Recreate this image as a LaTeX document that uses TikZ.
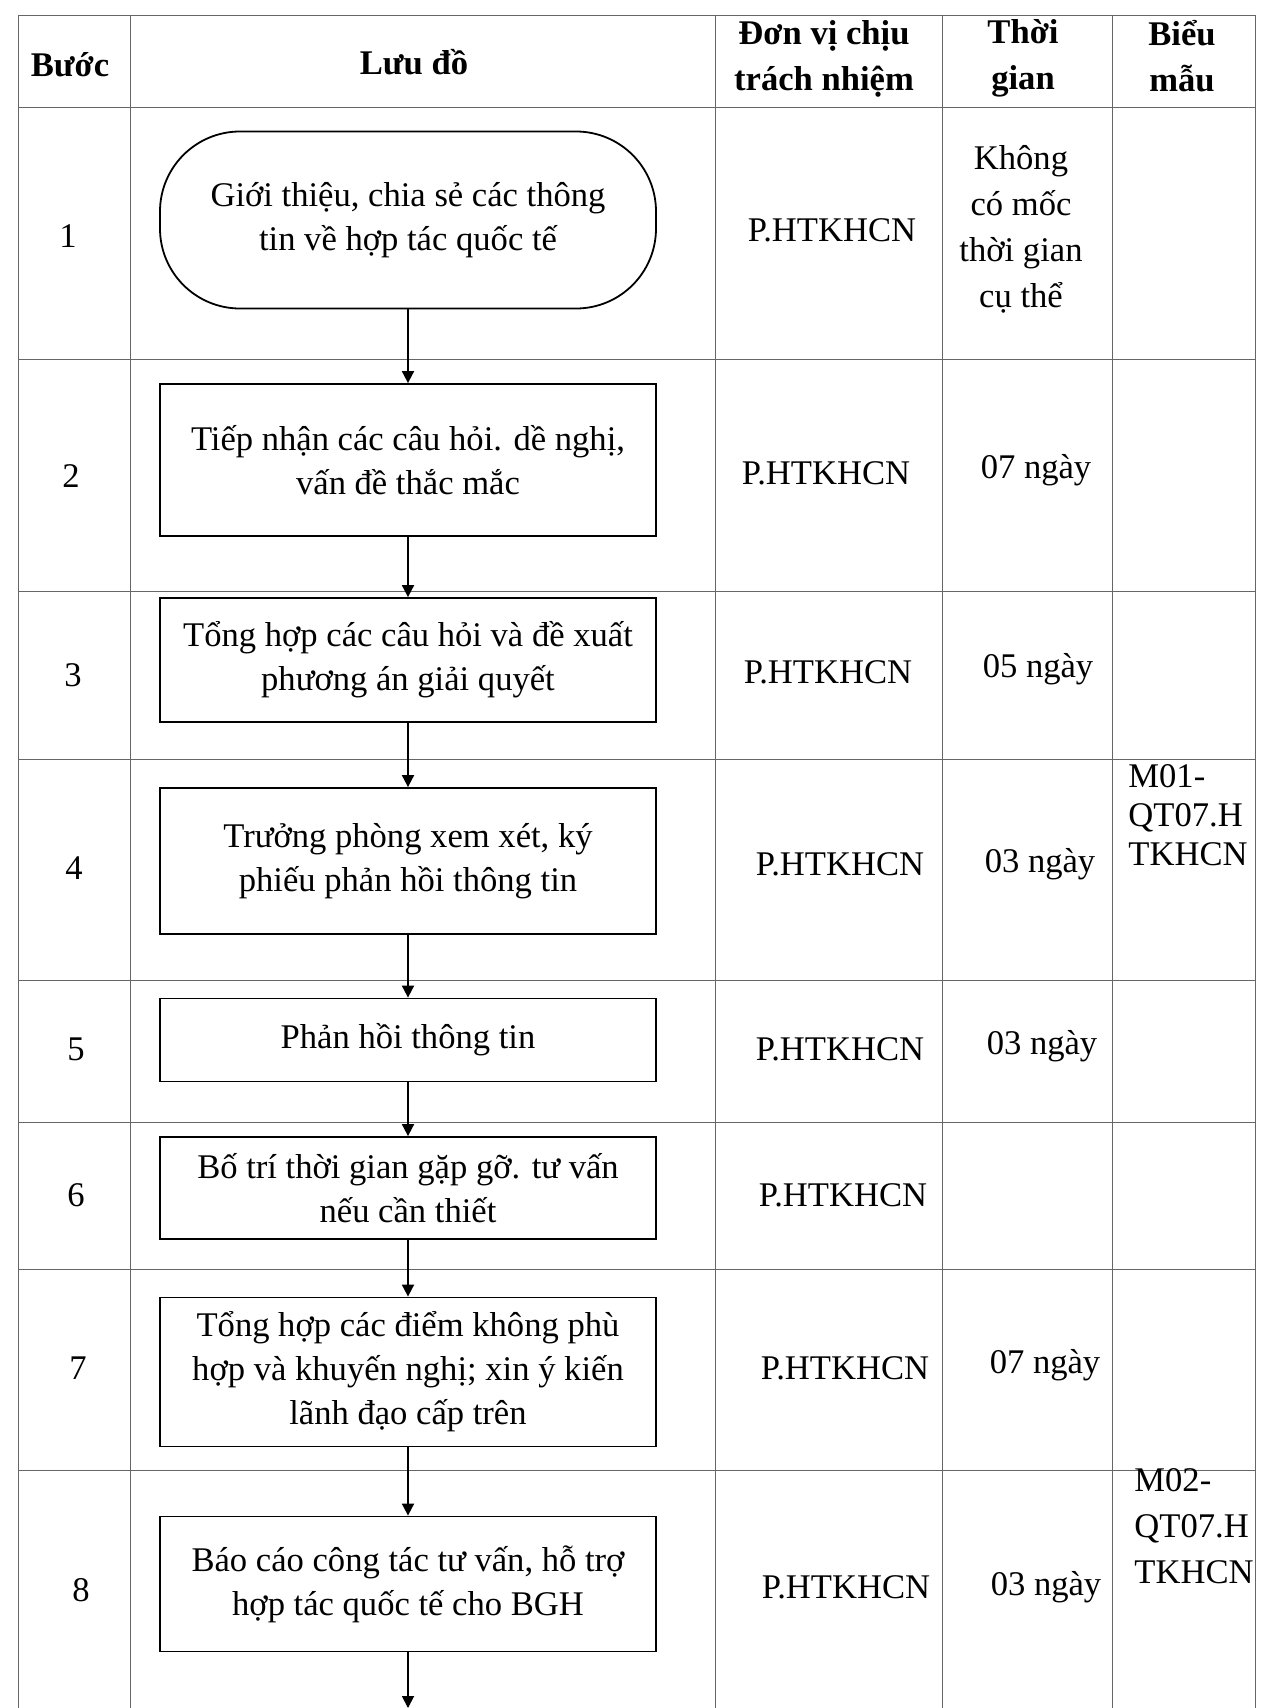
\documentclass[tikz,border=0pt]{standalone}
\usepackage{fontspec}
\setmainfont{Liberation Serif}
\usetikzlibrary{arrows.meta,positioning}
\tikzset{
  gridline/.style={draw=black!60, line width=0.5pt},
  flowbox/.style={draw, line width=0.9pt, align=center,
    minimum width=248pt, inner sep=0pt},
  termbox/.style={flowbox, rounded corners=40pt},
  cell/.style={align=center, inner sep=0pt},
  headcell/.style={cell, font=\fontsize{17.3}{23}\selectfont\bfseries},
  formcell/.style={align=left, inner sep=0pt, anchor=north west},
  arr/.style={-{Triangle[length=6pt,width=6pt]}, line width=0.9pt}
}

\begin{document}
\begin{tikzpicture}[x=0.5pt, y=-0.5pt, font=\fontsize{17.3}{22}\selectfont]
    \useasboundingbox (0,0) rectangle (1260,1708);
    % table
    \draw[gridline] (18,15) -- (1255,15);
    \draw[gridline] (18,107) -- (1255,107);
    \draw[gridline] (18,359) -- (1255,359);
    \draw[gridline] (18,591) -- (1255,591);
    \draw[gridline] (18,759) -- (1255,759);
    \draw[gridline] (18,980) -- (1255,980);
    \draw[gridline] (18,1122) -- (1255,1122);
    \draw[gridline] (18,1269) -- (1255,1269);
    \draw[gridline] (18,1470) -- (1255,1470);
    \draw[gridline] (18,15) -- (18,1708);
    \draw[gridline] (130,15) -- (130,1708);
    \draw[gridline] (715,15) -- (715,1708);
    \draw[gridline] (942,15) -- (942,1708);
    \draw[gridline] (1112,15) -- (1112,1708);
    \draw[gridline] (1255,15) -- (1255,1708);

    % header
    \node[headcell] (hstep) at (70,65) {Bước};
    \node[headcell] (hflow) at (414,62) {Lưu đồ};
    \node[headcell] (hunit) at (824,59) {Đơn vị chịu\\trách nhiệm};
    \node[headcell] (htime) at (1023,58) {Thời\\gian};
    \node[headcell] (hform) at (1182,56) {Biểu\\mẫu};

    % flow chart
    \node[termbox, minimum height=88.5pt] (s1) at (408,220)
      {Giới thiệu, chia sẻ các thông\\tin về hợp tác quốc tế};
    \node[flowbox, minimum height=76pt] (s2) at (408,460)
      {Tiếp nhận các câu hỏi. dề nghị,\\vấn đề thắc mắc};
    \node[flowbox, minimum height=62pt] (s3) at (408,660)
      {Tổng hợp các câu hỏi và đề xuất\\phương án giải quyết};
    \node[flowbox, minimum height=73pt] (s4) at (408,861)
      {Trưởng phòng xem xét, ký\\phiếu phản hồi thông tin};
    \node[flowbox, minimum height=41.5pt] (s5) at (408,1040)
      {Phản hồi thông tin};
    \node[flowbox, minimum height=51pt] (s6) at (408,1188)
      {Bố trí thời gian gặp gỡ. tư vấn\\nếu cần thiết};
    \node[flowbox, minimum height=74.5pt] (s7) at (408,1372)
      {Tổng hợp các điểm không phù\\hợp và khuyến nghị; xin ý kiến\\lãnh đạo cấp trên};
    \node[flowbox, minimum height=67.5pt] (s8) at (408,1584)
      {Báo cáo công tác tư vấn, hỗ trợ\\hợp tác quốc tế cho BGH};
    \coordinate (s9) at (408,1708);

    \draw[arr] (s1) -- (s2);
    \draw[arr] (s2) -- (s3);
    \draw[arr] (s3) -- (s4);
    \draw[arr] (s4) -- (s5);
    \draw[arr] (s5) -- (s6);
    \draw[arr] (s6) -- (s7);
    \draw[arr] (s7) -- (s8);
    \draw[arr] (s8) -- (s9);

    % step numbers
    \node[cell] (n1) at (68,236) {1};
    \node[cell] (n2) at (71,476) {2};
    \node[cell] (n3) at (73,675) {3};
    \node[cell] (n4) at (74,868) {4};
    \node[cell] (n5) at (76,1049) {5};
    \node[cell] (n6) at (76,1195) {6};
    \node[cell] (n7) at (78,1368) {7};
    \node[cell] (n8) at (81,1590) {8};

    % responsible unit
    \node[cell] (u1) at (832,230) {P.HTKHCN};
    \node[cell] (u2) at (826,473) {P.HTKHCN};
    \node[cell] (u3) at (828,672) {P.HTKHCN};
    \node[cell] (u4) at (840,864) {P.HTKHCN};
    \node[cell] (u5) at (840,1049) {P.HTKHCN};
    \node[cell] (u6) at (843,1195) {P.HTKHCN};
    \node[cell] (u7) at (845,1368) {P.HTKHCN};
    \node[cell] (u8) at (846,1587) {P.HTKHCN};

    % time
    \node[cell, font=\fontsize{17.3}{23}\selectfont] (t1) at (1021,229)
      {Không\\có mốc\\thời gian\\cụ thể};
    \node[cell] (t2) at (1036,470) {07 ngày};
    \node[cell] (t3) at (1038,669) {05 ngày};
    \node[cell] (t4) at (1040,864) {03 ngày};
    \node[cell] (t5) at (1042,1046) {03 ngày};
    \node[cell] (t7) at (1045,1365) {07 ngày};
    \node[cell] (t8) at (1046,1587) {03 ngày};

    % forms
    \node[formcell, font=\fontsize{17.3}{19.5}\selectfont] (f4) at (1128,764)
      {M01-\\QT07.H\\TKHCN};
    \node[formcell, font=\fontsize{17.3}{23}\selectfont] (f8) at (1134,1468)
      {M02-\\QT07.H\\TKHCN};
  \end{tikzpicture}
\end{document}
